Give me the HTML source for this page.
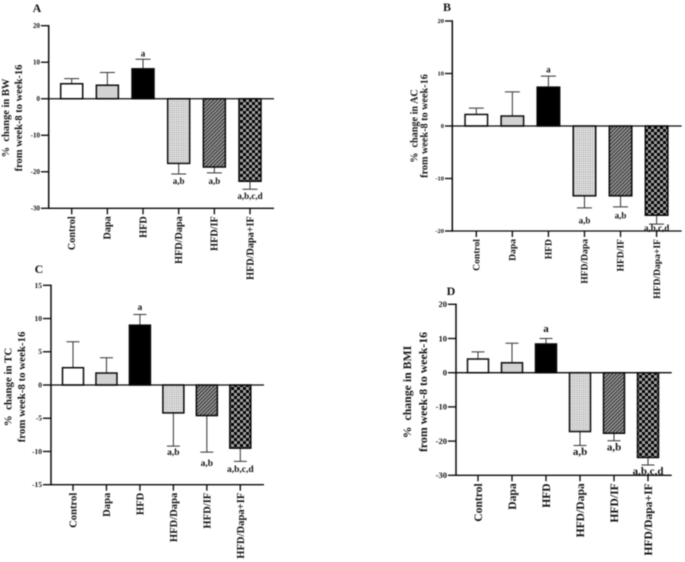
<!DOCTYPE html>
<html lang="en">
<head>
<meta charset="utf-8">
<title>Percent change from week-8 to week-16</title>
<style>
html,body{margin:0;padding:0;background:#fff;width:685px;height:562px;overflow:hidden}
svg{display:block;filter:blur(0.45px)}
text{font-family:"Liberation Serif",serif;font-weight:700;fill:#141414}
</style>
</head>
<body>
<svg id="figure" width="685" height="562" viewBox="0 0 685 562" xmlns="http://www.w3.org/2000/svg">
<defs>
<pattern id="pat-dots" width="2.2" height="2.2" patternUnits="userSpaceOnUse">
<rect width="2.2" height="2.2" fill="#e6e6e6"/>
<rect width="1.1" height="1.1" fill="#959595"/>
</pattern>
<pattern id="pat-diag" width="2.6" height="2.6" patternUnits="userSpaceOnUse" patternTransform="rotate(45)">
<rect width="2.6" height="2.6" fill="#a0a0a0"/>
<rect width="1.3" height="2.6" fill="#3c3c3c"/>
</pattern>
<pattern id="pat-check" width="6" height="6" patternUnits="userSpaceOnUse">
<rect width="6" height="6" fill="#a4a4a4"/>
<rect width="3" height="3" fill="#000"/>
<rect x="3" y="3" width="3" height="3" fill="#000"/>
</pattern>
</defs>
</svg>
<script>
const categories = ['Control', 'Dapa', 'HFD', 'HFD/Dapa', 'HFD/IF', 'HFD/Dapa+IF'];
const sigLabels = ['', '', 'a', 'a,b', 'a,b', 'a,b,c,d'];

const valuesA = [4.1, 3.7, 8.2, -17.7, -18.7, -22.6];
const errorEndsA = [5.5, 7.2, 10.8, -20.6, -20.3, -24.8];
const sigAnchorsA = [0, 0, 11.6, -23.3, -23.3, -27.4];
const ticksA = [20, 10, 0, -10, -20, -30];

const valuesB = [2.2, 1.9, 7.4, -13.3, -13.3, -17];
const errorEndsB = [3.4, 6.5, 9.5, -15.6, -15.4, -18.7];
const sigAnchorsB = [0, 0, 10.2, -18.6, -17.6, -20];
const ticksB = [20, 10, 0, -10, -20];

const valuesC = [2.6, 1.8, 9, -4.2, -4.6, -9.5];
const errorEndsC = [6.5, 4.1, 10.6, -9.2, -10.1, -11.5];
const sigAnchorsC = [0, 0, 11.3, -10.5, -12.2, -13.1];
const ticksC = [15, 10, 5, 0, -5, -10, -15];

const valuesD = [4, 2.9, 8.4, -17.2, -17.7, -24.8];
const errorEndsD = [6.1, 8.6, 10, -21.3, -19.9, -27];
const sigAnchorsD = [0, 0, 11.9, -24, -22.8, -29.7];
const ticksD = [20, 10, 0, -10, -20, -30];

const fills = ['#ffffff', '#d2d2d2', '#000000', 'url(#pat-dots)', 'url(#pat-diag)', 'url(#pat-check)'];
const NS = 'http://www.w3.org/2000/svg';
const fig = document.getElementById('figure');

function make(parent, tag, attrs, text) {
  const el = document.createElementNS(NS, tag);
  for (const k in attrs) el.setAttribute(k, attrs[k]);
  if (text !== undefined) el.textContent = text;
  parent.appendChild(el);
  return el;
}

function drawPanel(p) {
  const g = make(fig, 'g', {});
  
  

  const top = Math.max(...p.ticks), bottom = Math.min(...p.ticks);
  const y = v => p.yTop + (top - v) * (p.yBottom - p.yTop) / (top - bottom);
  const x = i => p.xFirst + i * p.xStep;

  const letter = make(g, 'text', {x: p.letterX, y: p.letterY, 'font-size': 12, 'text-anchor': 'middle'}, p.letter);
  
  

  p.titleLines.forEach((line, i) => {
    const tx = p.titleX[i];
    const title = make(g, 'text', {x: tx, y: p.titleY, 'font-size': p.titleSize, 'text-anchor': 'middle', transform: 'rotate(-90 ' + tx + ' ' + p.titleY + ')'}, line);
    
    
  });

  p.values.forEach((v, i) => {
    const cx = x(i);
    const err = make(g, 'path', {d: 'M' + cx + ' ' + y(v) + 'V' + y(p.errorEnds[i]) + 'M' + (cx - p.capHalf) + ' ' + y(p.errorEnds[i]) + 'H' + (cx + p.capHalf), stroke: '#333', 'stroke-width': 1, fill: 'none'});
    
    

    const y0 = y(0), yv = y(v);
    const bar = make(g, 'rect', {x: cx - p.barWidth / 2, y: Math.min(y0, yv), width: p.barWidth, height: Math.abs(yv - y0), fill: fills[i], stroke: '#0a0a0a', 'stroke-width': 1.5});
    
    

    if (sigLabels[i]) {
      const sig = make(g, 'text', {x: cx, y: y(p.sigAnchors[i]), 'font-size': p.sigSize, 'text-anchor': 'middle'}, sigLabels[i]);
      
      
    }

    const tick = make(g, 'line', {x1: cx, x2: cx, y1: p.yBottom, y2: p.yBottom + 6, stroke: '#111', 'stroke-width': 1.4});
    
    

    const ly = p.yBottom + 8;
    const lx = cx + p.catSize * 0.33;
    const lab = make(g, 'text', {x: lx, y: ly, 'font-size': p.catSize, 'text-anchor': 'end', transform: 'rotate(-90 ' + lx + ' ' + ly + ')'}, categories[i]);
    
    
  });

  p.ticks.forEach(t => {
    const tk = make(g, 'line', {x1: p.tickLeft, x2: p.yAxisX, y1: y(t), y2: y(t), stroke: '#111', 'stroke-width': 1.4});
    
    

    const tl = make(g, 'text', {x: p.tickLeft - 1, y: y(t) + p.tickSize * 0.33, 'font-size': p.tickSize, 'text-anchor': 'end'}, String(t));
    
    
  });

  const yAxis = make(g, 'line', {x1: p.yAxisX, x2: p.yAxisX, y1: p.yTop - 0.7, y2: p.yBottom + 0.7, stroke: '#0a0a0a', 'stroke-width': 1.5});
  
  

  const xAxis = make(g, 'line', {x1: p.yAxisX, x2: p.xEnd, y1: p.yBottom, y2: p.yBottom, stroke: '#0a0a0a', 'stroke-width': 1.3});
  
  

  const zero = make(g, 'line', {x1: p.yAxisX, x2: p.xEnd, y1: y(0), y2: y(0), stroke: '#0a0a0a', 'stroke-width': 1.3});
  
  
}

drawPanel({letter: 'A', letterX: 37, letterY: 12, values: valuesA, errorEnds: errorEndsA, sigAnchors: sigAnchorsA, ticks: ticksA,
  yTop: 25.7, yBottom: 208.3, yAxisX: 48.7, xEnd: 274, tickLeft: 41, xFirst: 71.7, xStep: 35.66, barWidth: 22, capHalf: 7.5,
  titleLines: ['%\u00a0\u00a0change in BW', 'from week-8 to week-16'], titleX: [9, 22], titleY: 118, titleSize: 10.5, tickSize: 7, sigSize: 9, catSize: 10.2});

drawPanel({letter: 'B', letterX: 447, letterY: 11, values: valuesB, errorEnds: errorEndsB, sigAnchors: sigAnchorsB, ticks: ticksB,
  yTop: 21, yBottom: 231, yAxisX: 452.3, xEnd: 681.7, tickLeft: 445, xFirst: 476.3, xStep: 36.06, barWidth: 22.5, capHalf: 7.5,
  titleLines: ['%\u00a0\u00a0change in AC', 'from week-8 to week-16'], titleX: [417.5, 427.5], titleY: 126, titleSize: 10.2, tickSize: 6.5, sigSize: 9, catSize: 9.6});

drawPanel({letter: 'C', letterX: 39, letterY: 273, values: valuesC, errorEnds: errorEndsC, sigAnchors: sigAnchorsC, ticks: ticksC,
  yTop: 285.3, yBottom: 484.7, yAxisX: 51, xEnd: 264, tickLeft: 43, xFirst: 73, xStep: 33.46, barWidth: 21, capHalf: 6.5,
  titleLines: ['%\u00a0\u00a0change in TC', 'from week-8 to week-16'], titleX: [11.5, 25], titleY: 387, titleSize: 10.9, tickSize: 7.5, sigSize: 9.5, catSize: 10.6});

drawPanel({letter: 'D', letterX: 451, letterY: 295, values: valuesD, errorEnds: errorEndsD, sigAnchors: sigAnchorsD, ticks: ticksD,
  yTop: 304.3, yBottom: 475.3, yAxisX: 456, xEnd: 671.7, tickLeft: 448, xFirst: 478, xStep: 34, barWidth: 21, capHalf: 6.5,
  titleLines: ['%\u00a0\u00a0change in BMI', 'from week-8 to week-16'], titleX: [411, 427], titleY: 392, titleSize: 11.8, tickSize: 8.5, sigSize: 11, catSize: 11.6});
</script>
</body>
</html>
